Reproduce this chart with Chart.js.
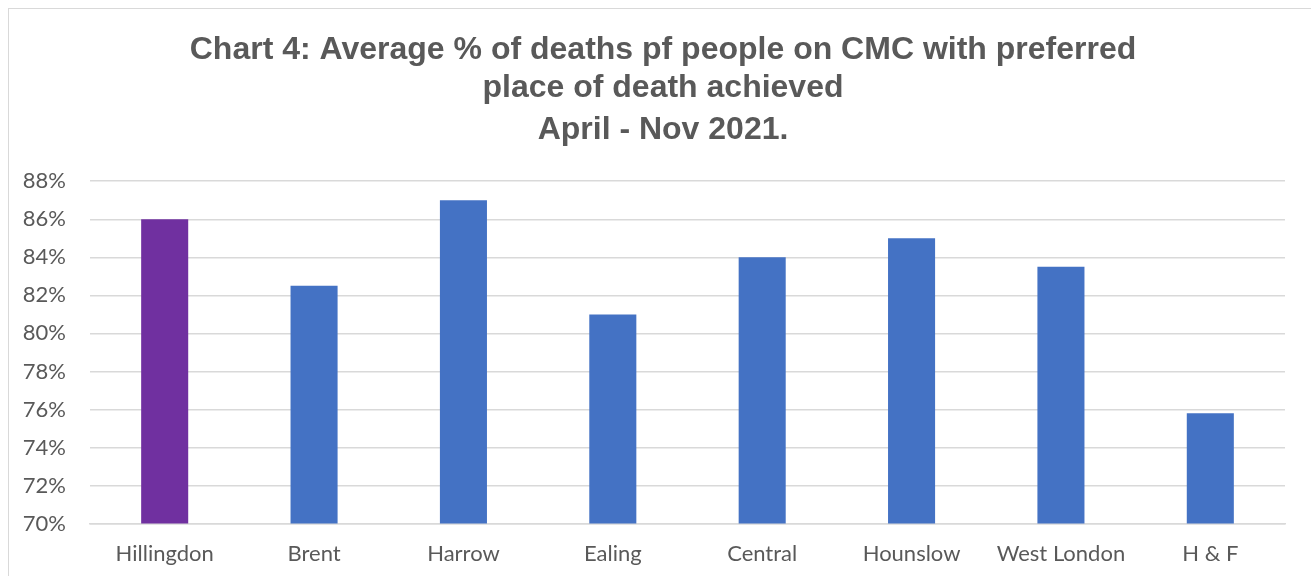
<!DOCTYPE html>
<html>
<head>
<meta charset="utf-8">
<script src="https://cdn.jsdelivr.net/npm/chart.js@4/dist/chart.umd.min.js"></script>
<style>
  html, body { margin: 0; padding: 0; background: #fff; overflow: hidden; }
  #frame {
    position: absolute; left: 8px; top: 8px;
    width: 1340px; height: 640px;
    border: 1px solid #d9d9d9;
  }
  #box { position: absolute; left: 0; top: 0; width: 1302px; height: 600px; }
</style>
</head>
<body>
<div id="frame">
  <div id="box"><canvas id="chart"></canvas></div>
</div>
<script>
const areas = ["Hillingdon", "Brent", "Harrow", "Ealing", "Central", "Hounslow", "West London", "H & F"];
const achieved = [86, 82.5, 87, 81, 84, 85, 83.5, 75.8];
const barColours = ["#7030A0", "#4472C4", "#4472C4", "#4472C4", "#4472C4", "#4472C4", "#4472C4", "#4472C4"];
const titleLines = ["Chart 4: Average % of deaths pf people on CMC with preferred", "place of death achieved"];
const subtitleText = "April - Nov 2021.";

const grey = "#595959";
const gridGrey = "#d9d9d9";
const titleFont = { family: "'Liberation Sans', Arial, sans-serif", size: 32, weight: "bold", lineHeight: 1.19 };
const tickFont = { family: "Lato, 'Open Sans', sans-serif", size: 22 };

new Chart(document.getElementById("chart"), {
  type: "bar",
  data: {
    labels: areas,
    datasets: [{
      data: achieved,
      backgroundColor: barColours,
      borderWidth: 0,
      categoryPercentage: 1,
      barPercentage: 0.315
    }]
  },
  options: {
    responsive: true,
    maintainAspectRatio: false,
    animation: false,
    layout: { padding: { left: 6, right: 0, top: 0, bottom: 25 } },
    plugins: {
      legend: { display: false },
      tooltip: { enabled: false },
      title: {
        display: true,
        text: titleLines,
        color: grey,
        font: titleFont,
        padding: { top: 22, bottom: 0 }
      },
      subtitle: {
        display: true,
        text: subtitleText,
        color: grey,
        font: titleFont,
        padding: { top: 4, bottom: 32 }
      }
    },
    scales: {
      x: {
        grid: { display: false, drawTicks: false },
        border: { display: true, color: gridGrey, width: 1.5 },
        ticks: { color: grey, padding: 17, font: tickFont }
      },
      y: {
        min: 70,
        max: 88,
        grid: { color: gridGrey, lineWidth: 1.5, drawTicks: false },
        border: { display: false },
        afterFit: (scale) => { scale.width = 75; },
        ticks: {
          stepSize: 2,
          color: grey,
          padding: 24,
          font: tickFont,
          callback: (v) => v + "%"
        }
      },
      // empty right-hand margin so the title centres over the whole frame
      gap: {
        type: "linear",
        position: "right",
        grid: { display: false, drawTicks: false },
        border: { display: false },
        ticks: { display: false },
        afterFit: (scale) => { scale.width = 26; }
      }
    }
  }
});
</script>
</body>
</html>
